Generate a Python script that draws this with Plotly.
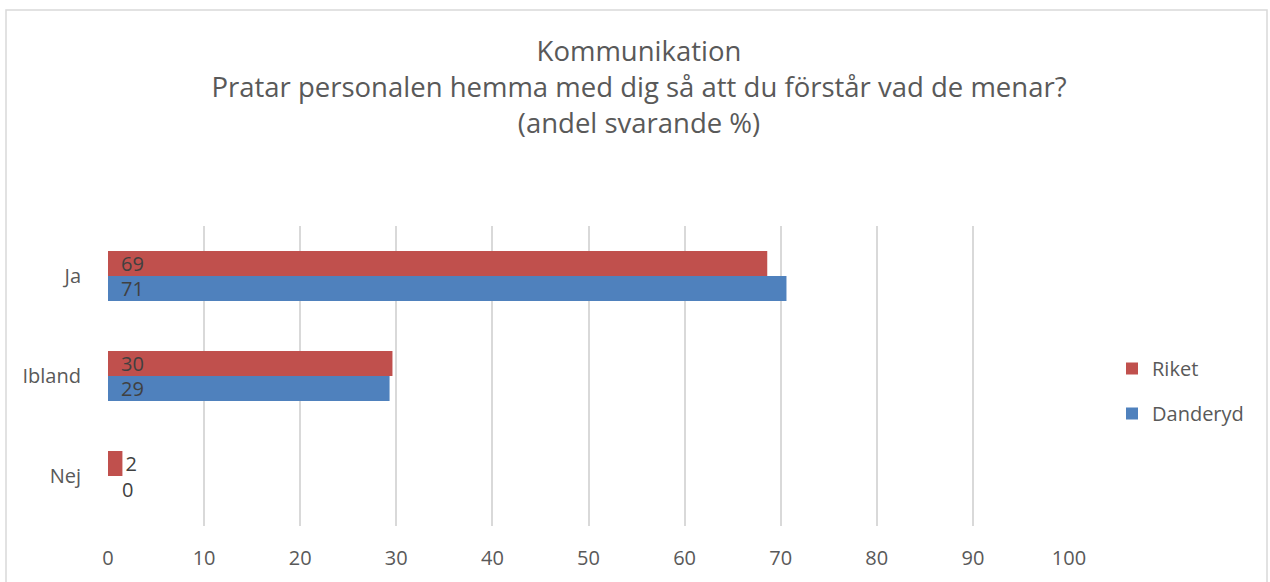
import plotly.graph_objects as go

categories = ["Ja", "Ibland", "Nej"]
riket = [68.6, 29.6, 1.5]
danderyd = [70.6, 29.3, 0]
series_names = ["Riket", "Danderyd"]
tick_values = [0, 10, 20, 30, 40, 50, 60, 70, 80, 90, 100]

colors = ["#C0504D", "#4F81BD"]
font_family = "Open Sans"
text_color = "#404040"
axis_color = "#595959"

fig = go.Figure()
for name, vals, col in zip(series_names, [riket, danderyd], colors):
    positions = ["inside" if v > 5 else "outside" for v in vals]
    templates = ["\u2009\u2009\u2009%{x:.0f}" if v > 5 else ("%{x:.0f}" if v > 0 else "")
                 for v in vals]
    fig.add_trace(go.Bar(
        y=categories, x=vals, name=name, orientation="h",
        marker=dict(color=col, line=dict(width=0)),
        texttemplate=templates, textposition=positions, insidetextanchor="start",
        textangle=0, constraintext="none",
        insidetextfont=dict(color=text_color, size=20, family=font_family),
        outsidetextfont=dict(color=text_color, size=20, family=font_family),
        cliponaxis=False, legendgroup=name,
    ))

# label for zero-length bars
for name, vals in zip(series_names, [riket, danderyd]):
    for cat, v in zip(categories, vals):
        if v == 0:
            fig.add_annotation(x=v, y=cat, xref="x", yref="y", text="%.0f" % v,
                               showarrow=False, xanchor="left", xshift=12, yshift=-13,
                               font=dict(color=text_color, size=20, family=font_family))

fig.update_layout(
    width=1270, height=582,
    paper_bgcolor="white", plot_bgcolor="white",
    margin=dict(l=108, r=201, t=226, b=56),
    barmode="group", bargap=0.5, bargroupgap=0,
    font=dict(family=font_family, color=axis_color, size=20),
    title=dict(
        text="Kommunikation<br>Pratar personalen hemma med dig så att du förstår vad de menar?<br>(andel svarande %)",
        x=639 / 1270, xanchor="center", xref="container", y=1 - 61 / 582, yanchor="middle",
        font=dict(size=27.5, color=axis_color, family=font_family),
    ),
    xaxis=dict(range=[0, 100], tickvals=tick_values, showgrid=True, gridcolor="#D9D9D9",
               gridwidth=1.5, zeroline=False, showline=False, ticks="outside", ticklen=14,
               tickcolor="rgba(0,0,0,0)",
               tickfont=dict(size=20, color=axis_color)),
    yaxis=dict(autorange="reversed", showgrid=False, zeroline=False, showline=False,
               ticks="outside", ticklen=22, tickcolor="rgba(0,0,0,0)",
               tickfont=dict(size=20, color=axis_color)),
    legend=dict(x=(1112 - 108) / 961, y=(526 - 391) / 300, xanchor="left", yanchor="middle",
                font=dict(size=20, color=axis_color), tracegroupgap=16),
    showlegend=True,
)

fig.add_shape(type="rect", xref="paper", yref="paper",
              x0=(6 - 108) / 961, x1=(1267 - 108) / 961,
              y0=(526 - 600) / 300, y1=(526 - 10) / 300,
              line=dict(color="#D9D9D9", width=1.5), fillcolor="rgba(0,0,0,0)")

fig.write_html("out.html", config={"displayModeBar": False},
               post_script="document.body.style.margin='0';")
